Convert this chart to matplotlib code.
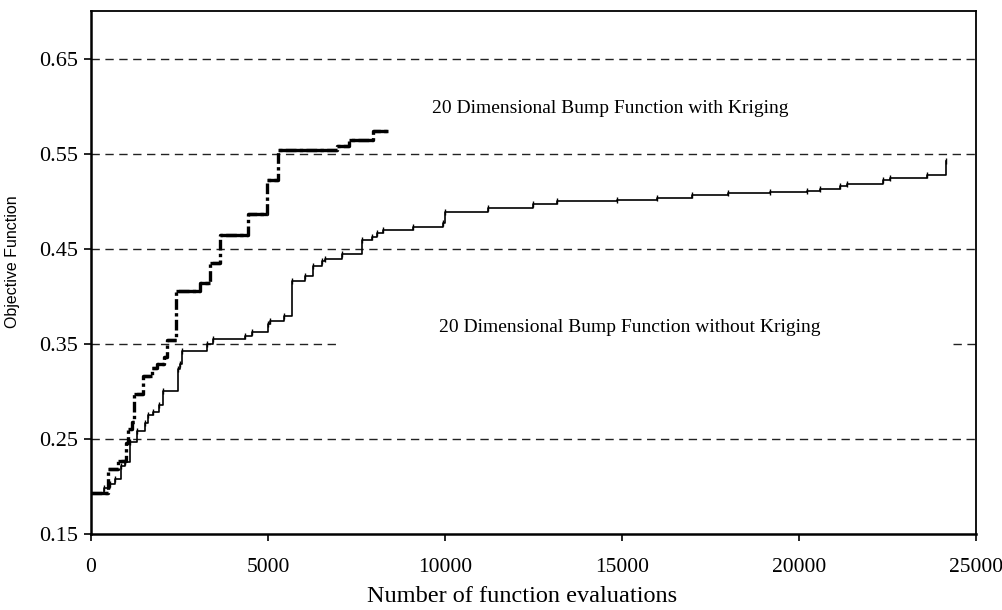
import matplotlib
matplotlib.use("Agg")
import matplotlib.pyplot as plt

# ---- data ----
# Kriging run (thick dash-dot step line)
krig_x = [0, 471, 771, 980, 1055, 1149, 1224, 1478, 1714, 1855, 2062, 2138, 2392,
          3079, 3362, 3644, 4444, 4963, 5291, 6958, 7297, 7975, 8390]
krig_y = [0.193, 0.2185, 0.227, 0.246, 0.2605, 0.2675, 0.297, 0.3165, 0.325, 0.329,
          0.3357, 0.354, 0.4056, 0.4143, 0.4353, 0.464, 0.486, 0.522, 0.554, 0.5585,
          0.5648, 0.574, 0.574]

# Run without Kriging (thin step line)
nokrig_x = [0, 370, 540, 680, 850, 960, 1100, 1290, 1525, 1620, 1760, 1920, 2043,
            2448, 2514, 2580, 3267, 3455, 4350, 4539, 4991, 5056, 5461, 5669, 6045,
            6280, 6517, 6610, 7082, 7647, 7929, 8071, 8257, 9105, 9952, 9990, 11223,
            12494, 13155, 14850, 15989, 16977, 17994, 19181, 20226, 20593, 21158,
            21356, 22373, 22571, 23616, 24153]
nokrig_y = [0.193, 0.198, 0.203, 0.208, 0.222, 0.226, 0.2465, 0.2587, 0.2668, 0.2755,
            0.2786, 0.2857, 0.3007, 0.3234, 0.3287, 0.3427, 0.3497, 0.355, 0.3584,
            0.3619, 0.3707, 0.3741, 0.3794, 0.4161, 0.4214, 0.4318, 0.437, 0.4389,
            0.4441, 0.4588, 0.4622, 0.4668, 0.4693, 0.4728, 0.4773, 0.4885, 0.4924,
            0.4966, 0.5, 0.5017, 0.5034, 0.506, 0.5083, 0.5098, 0.5112, 0.513, 0.5158,
            0.5183, 0.5218, 0.5246, 0.5273, 0.542]

x_ticks = [0, 5000, 10000, 15000, 20000, 25000]
y_ticks = [0.15, 0.25, 0.35, 0.45, 0.55, 0.65]
grid_full = [0.25, 0.45, 0.55, 0.65]
grid_partial = 0.35
grid_partial_spans = [(0, 6977), (24350, 25000)]

label_with = "20 Dimensional Bump Function with Kriging"
label_without = "20 Dimensional Bump Function without Kriging"
xlabel = "Number of function evaluations"
ylabel = "Objective Function"

# ---- figure ----
serif = ["Liberation Serif", "DejaVu Serif"]
fig = plt.figure(figsize=(10.03, 6.10), dpi=100)
ax = fig.add_axes([0.0907, 0.1246, 0.8824, 0.8574])

ax.set_xlim(0, 25000)
ax.set_ylim(0.15, 0.70)

grid_kw = dict(color="#222222", lw=1.0, ls=(0, (6, 4)), zorder=1)
for g in grid_full:
    ax.axhline(g, **grid_kw)
for a, b in grid_partial_spans:
    ax.hlines(grid_partial, a, b, **grid_kw)

# without Kriging: thin step line with small tick markers
ax.step(nokrig_x, nokrig_y, where="post", color="black", lw=1.2, zorder=3)
ax.plot(nokrig_x[1:], nokrig_y[1:], ls="none", marker="|", ms=4, mew=1.0,
        color="black", zorder=3)

# with Kriging: thick line, solid horizontal parts, dash-dot verticals
ax.step(krig_x, krig_y, where="post", color="black", lw=2.4,
        ls=(0, (3.2, 1.0, 1.0, 1.0)), zorder=4)
ax.hlines(krig_y[:-1], krig_x[:-1], krig_x[1:], color="black", lw=2.4, zorder=4)

ax.text(14661, 0.5976, label_with, ha="center", va="center",
        fontsize=14, family=serif, zorder=5)
ax.text(15226, 0.3668, label_without, ha="center", va="center",
        fontsize=14, family=serif, zorder=5)

ax.set_xticks(x_ticks)
ax.set_yticks(y_ticks)
ax.set_xticklabels([str(v) for v in x_ticks], family=serif, fontsize=15.5)
ax.set_yticklabels(["%.2f" % v for v in y_ticks], family=serif, fontsize=16)
ax.tick_params(axis="both", direction="out", length=5, width=1.2, color="black")
ax.tick_params(axis="x", pad=12)
ax.tick_params(axis="y", pad=4)

for side in ["left", "bottom"]:
    ax.spines[side].set_linewidth(1.8)
for side in ["top", "right"]:
    ax.spines[side].set_linewidth(1.3)

ax.set_xlabel(xlabel, family=serif, fontsize=17.5)
ax.xaxis.set_label_coords(0.487, -0.1)
ax.set_ylabel(ylabel, family=["Liberation Sans", "DejaVu Sans"], fontsize=11.5)
ax.yaxis.set_label_coords(-0.08, 0.52)

fig.savefig("out.png", dpi=100)
